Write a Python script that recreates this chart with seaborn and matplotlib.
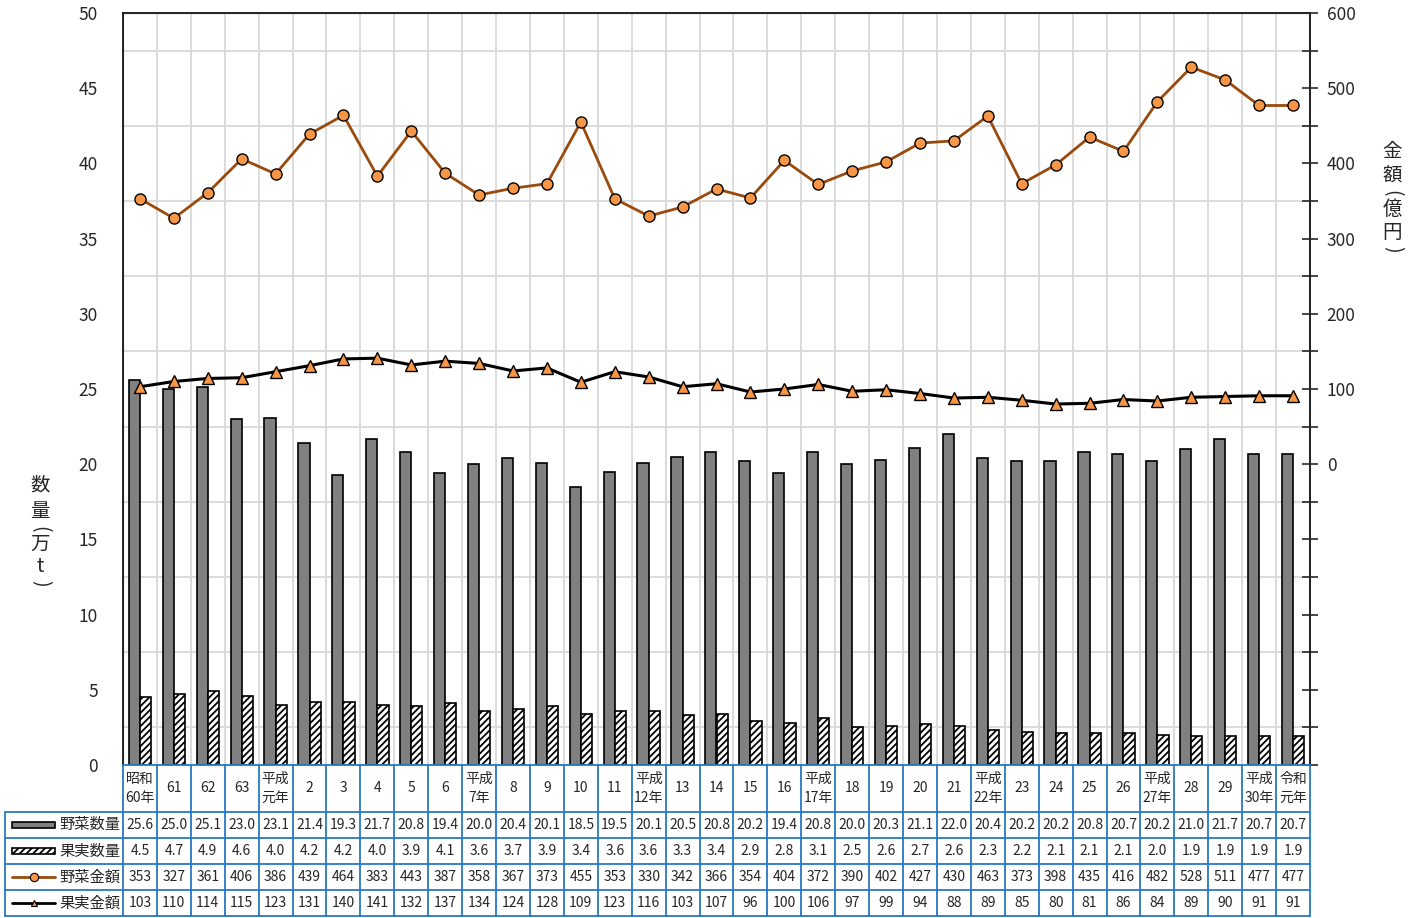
import numpy as np
import pandas as pd
import matplotlib
matplotlib.use("Agg")
import matplotlib.pyplot as plt
import matplotlib.transforms as mtransforms
from matplotlib.lines import Line2D
from matplotlib.patches import Rectangle
import seaborn as sns

# data
years = ["昭和\n60年", "61", "62", "63", "平成\n元年", "2", "3", "4", "5", "6",
         "平成\n7年", "8", "9", "10", "11", "平成\n12年", "13", "14", "15", "16",
         "平成\n17年", "18", "19", "20", "21", "平成\n22年", "23", "24", "25", "26",
         "平成\n27年", "28", "29", "平成\n30年", "令和\n元年"]
veg_qty = [25.6, 25.0, 25.1, 23.0, 23.1, 21.4, 19.3, 21.7, 20.8, 19.4,
           20.0, 20.4, 20.1, 18.5, 19.5, 20.1, 20.5, 20.8, 20.2, 19.4,
           20.8, 20.0, 20.3, 21.1, 22.0, 20.4, 20.2, 20.2, 20.8, 20.7,
           20.2, 21.0, 21.7, 20.7, 20.7]
fruit_qty = [4.5, 4.7, 4.9, 4.6, 4.0, 4.2, 4.2, 4.0, 3.9, 4.1,
             3.6, 3.7, 3.9, 3.4, 3.6, 3.6, 3.3, 3.4, 2.9, 2.8,
             3.1, 2.5, 2.6, 2.7, 2.6, 2.3, 2.2, 2.1, 2.1, 2.1,
             2.0, 1.9, 1.9, 1.9, 1.9]
veg_amt = [353, 327, 361, 406, 386, 439, 464, 383, 443, 387,
           358, 367, 373, 455, 353, 330, 342, 366, 354, 404,
           372, 390, 402, 427, 430, 463, 373, 398, 435, 416,
           482, 528, 511, 477, 477]
fruit_amt = [103, 110, 114, 115, 123, 131, 140, 141, 132, 137,
             134, 124, 128, 109, 123, 116, 103, 107, 96, 100,
             106, 97, 99, 94, 88, 89, 85, 80, 81, 86,
             84, 89, 90, 91, 91]
series_names = ["野菜数量", "果実数量", "野菜金額", "果実金額"]

sns.set_style("white")
plt.rcParams["font.family"] = ["Noto Sans CJK JP", "DejaVu Sans"]
plt.rcParams["hatch.linewidth"] = 1.3

BLUE = "#2878C8"
BROWN = "#9A4A0C"
ORANGE = "#F79646"
GRID = "#D9D9D9"

n = len(years)
x = np.arange(n)

fig = plt.figure(figsize=(14.19, 9.18), dpi=100)
ax = fig.add_axes([123 / 1419, 1 - 765 / 918, 1187 / 1419, 752 / 918])

df = pd.DataFrame({
    "year": years * 2,
    "qty": veg_qty + fruit_qty,
    "kind": [series_names[0]] * n + [series_names[1]] * n,
})
sns.barplot(data=df, x="year", y="qty", hue="kind", order=years,
            hue_order=series_names[:2], palette=["#808080", "white"],
            width=0.66, edgecolor="black", linewidth=1.2, legend=False,
            saturation=1, ax=ax)
for p in ax.patches[n:]:
    p.set_hatch("/////")

ax.set_xlim(-0.5, n - 0.5)
ax.set_ylim(0, 50)
ax.set_yticks(np.arange(0, 51, 5))
ax.set_yticks(np.arange(0, 51, 2.5), minor=True)
ax.set_xticks(np.arange(n) + 0.5, minor=True)
ax.set_xticks([])
ax.grid(True, which="minor", color=GRID, linewidth=1.3)
ax.set_axisbelow(True)
ax.tick_params(axis="y", which="both", length=0, labelsize=12.5, pad=18)
ax.set_xlabel("")
ax.set_ylabel("")
for s in ["left", "top", "right"]:
    ax.spines[s].set_color("black")
    ax.spines[s].set_linewidth(1.2)
ax.spines["bottom"].set_visible(False)

# right axis: amounts
ax2 = ax.twinx()
sns.lineplot(x=x, y=veg_amt, color=BROWN, linewidth=2.0, marker="o",
             markersize=8, markerfacecolor=ORANGE, markeredgecolor="black",
             markeredgewidth=1.0, ax=ax2)
sns.lineplot(x=x, y=fruit_amt, color="black", linewidth=2.2, marker="^",
             markersize=8, markerfacecolor=ORANGE, markeredgecolor="black",
             markeredgewidth=1.0, ax=ax2)
ax2.set_ylim(-400, 600)
ax2.set_yticks(np.arange(0, 601, 100))
ax2.set_yticks(np.arange(-400, 601, 50), minor=True)
ax2.tick_params(axis="y", which="both", direction="inout", length=12,
                width=1.2, labelsize=12.5, pad=6)
ax2.spines["right"].set_linewidth(1.2)
ax2.spines["bottom"].set_visible(False)
ax2.set_xlim(-0.5, n - 0.5)

# axis titles written vertically, one character at a time
# brackets are parens turned a quarter turn
left_title = [("数", 485, 0), ("量", 512, 0), ("(", 529, -90), ("万", 544, 0),
              ("t", 567, 0), (")", 583, -90)]
right_title = [("金", 152, 0), ("額", 176, 0), ("(", 193, -90), ("億", 209, 0),
               ("円", 233, 0), (")", 249, -90)]
for ch, yy, rot in left_title:
    fig.text(40 / 1419, 1 - yy / 918, ch, ha="center", va="center",
             fontsize=14, rotation=rot, rotation_mode="anchor")
for ch, yy, rot in right_title:
    fig.text(1392 / 1419, 1 - yy / 918, ch, ha="center", va="center",
             fontsize=14, rotation=rot, rotation_mode="anchor")

# data table under the plot
tr = mtransforms.blended_transform_factory(ax.transData, fig.transFigure)
px = 1187 / n  # pixels per category
left_edge = -0.5 - (123 - 5) / px
y_top = 1 - 765 / 918
y_cat = 1 - 812 / 918
row_h = 26 / 918
rows = [veg_qty, fruit_qty, veg_amt, fruit_amt]
y_rows = [y_cat - i * row_h for i in range(5)]

lk = dict(color=BLUE, linewidth=1.3, transform=tr, clip_on=False)
fig.add_artist(Line2D([-0.5, n - 0.5], [y_top, y_top], **lk))
for yy in y_rows:
    fig.add_artist(Line2D([left_edge, n - 0.5], [yy, yy], **lk))
fig.add_artist(Line2D([left_edge, left_edge], [y_cat, y_rows[-1]], **lk))
for k in range(n + 1):
    fig.add_artist(Line2D([k - 0.5, k - 0.5], [y_top, y_rows[-1]], **lk))

for k, lab in enumerate(years):
    fig.text(k, (y_top + y_cat) / 2, lab, transform=tr, ha="center",
             va="center", fontsize=10, linespacing=1.5)
for r, vals in enumerate(rows):
    yc = y_rows[r] - row_h / 2
    for k, v in enumerate(vals):
        txt = f"{v:.1f}" if r < 2 else f"{v:d}"
        fig.text(k, yc, txt, transform=tr, ha="center", va="center",
                 fontsize=10)

# legend keys in the first column
key_x0 = left_edge + 7 / px
key_x1 = left_edge + 50 / px
for r, name in enumerate(series_names):
    yc = y_rows[r] - row_h / 2
    if r < 2:
        fig.add_artist(Rectangle((key_x0, yc - 3 / 918), key_x1 - key_x0,
                                 6 / 918, transform=tr, clip_on=False,
                                 facecolor="#808080" if r == 0 else "white",
                                 hatch=None if r == 0 else "/////",
                                 edgecolor="black", linewidth=1.2))
    else:
        col = BROWN if r == 2 else "black"
        mk = "o" if r == 2 else "^"
        fig.add_artist(Line2D([key_x0, key_x1], [yc, yc], color=col,
                              linewidth=2.0, transform=tr, clip_on=False))
        fig.add_artist(Line2D([(key_x0 + key_x1) / 2], [yc], marker=mk,
                              markersize=6 if r == 2 else 5,
                              markerfacecolor=ORANGE, markeredgecolor="black",
                              markeredgewidth=0.8, linestyle="none",
                              transform=tr, clip_on=False))
    fig.text(left_edge + 54 / px, yc, name, transform=tr, ha="left",
             va="center", fontsize=11)

fig.savefig("out.png", dpi=100)
